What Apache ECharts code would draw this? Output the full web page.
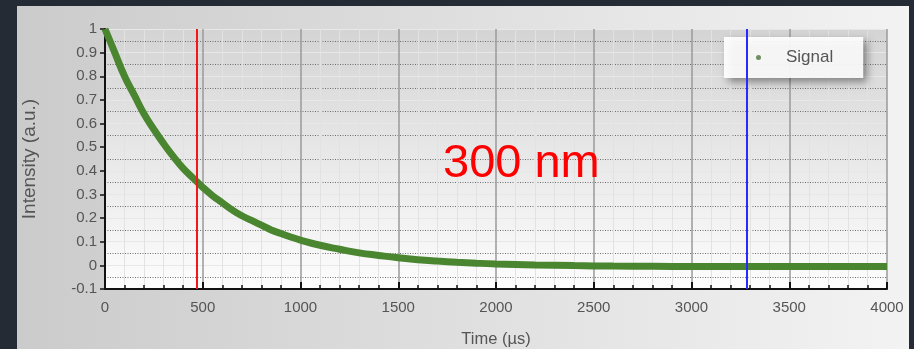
<!DOCTYPE html>
<html>
<head>
<meta charset="utf-8">
<script src="https://cdn.jsdelivr.net/npm/echarts@6/dist/echarts.min.js"></script>
<style>
    html, body { margin: 0; padding: 0; background: #252b34; }
    #chart { width: 914px; height: 349px; }
</style>
</head>
<body>
<div id="chart"></div>
<script>
// values
const timeUs = [0, 50, 100, 150, 200, 250, 300, 350, 400, 450, 500, 550, 600, 650, 700, 750, 800, 850, 900, 950,
    1000, 1100, 1200, 1300, 1400, 1500, 1600, 1700, 1800, 1900, 2000, 2200, 2400, 2600, 2800, 3000, 3500, 4000];
const intensity = [1, 0.9, 0.8, 0.72, 0.64, 0.575, 0.515, 0.46, 0.41, 0.37, 0.33, 0.295, 0.265, 0.235, 0.21, 0.19, 0.17, 0.15, 0.135, 0.12,
    0.107, 0.085, 0.068, 0.053, 0.042, 0.032, 0.024, 0.018, 0.013, 0.009, 0.006, 0.002, -0.001, -0.003, -0.004, -0.005, -0.005, -0.005];
const markerRed = 470;
const markerBlue = 3285;
const seriesName = 'Signal';
const label = '300 nm';

let chart = echarts.init(document.getElementById('chart'));
const font = 'Liberation Sans, Arial, sans-serif';

let option = {
    backgroundColor: '#252b34',
    animation: false,
    graphic: [
        {
            type: 'rect',
            z: -10,
            shape: { x: 17, y: 6, width: 892, height: 343 },
            style: {
                fill: new echarts.graphic.LinearGradient(0, 0, 1, 0, [
                    { offset: 0, color: '#cbcbcb' },
                    { offset: 1, color: '#f3f3f3' }
                ])
            }
        }
    ],
    title: {
        text: label,
        left: 438,
        top: 136,
        textStyle: { color: '#ff0000', fontSize: 47, fontWeight: 'normal', fontFamily: font }
    },
    legend: {
        data: [seriesName],
        left: 724,
        top: 37,
        padding: [12, 30, 12, 32],
        icon: 'circle',
        itemWidth: 5,
        itemHeight: 5,
        itemStyle: { color: '#6f8f62' },
        backgroundColor: 'rgba(255,255,255,0.92)',
        shadowBlur: 8,
        shadowOffsetX: 4,
        shadowOffsetY: 4,
        shadowColor: 'rgba(0,0,0,0.45)',
        textStyle: { color: '#555', fontSize: 17, fontFamily: font, padding: [0, 0, 0, 20] }
    },
    grid: {
        left: 105,
        right: 27,
        top: 29,
        bottom: 60,
        outerBoundsMode: 'none',
        containLabel: false,
        show: true,
        borderWidth: 0,
        backgroundColor: new echarts.graphic.LinearGradient(0, 0, 0, 1, [
            { offset: 0, color: '#d4d4d4' },
            { offset: 1, color: '#fdfdfd' }
        ])
    },
    xAxis: {
        type: 'value',
        min: 0,
        max: 4000,
        interval: 500,
        name: 'Time (µs)',
        nameLocation: 'middle',
        nameGap: 42,
        nameTextStyle: { color: '#555', fontSize: 16.5, fontFamily: font },
        axisLine: { onZero: false, lineStyle: { color: '#111', width: 2 } },
        axisTick: { inside: true, length: 7, lineStyle: { color: '#111', width: 2 } },
        minorTick: { show: true, splitNumber: 5, length: 4, lineStyle: { color: '#111', width: 1.5 } },
        axisLabel: { color: '#555', fontSize: 15, fontFamily: font, margin: 11, formatter: v => String(v) },
        splitLine: { show: true, lineStyle: { color: '#9a9a9a', width: 1.5 } },
        minorSplitLine: { show: true, lineStyle: { color: '#e2e2e2', width: 1 } }
    },
    yAxis: {
        type: 'value',
        min: -0.1,
        max: 1,
        interval: 0.1,
        name: 'Intensity (a.u.)',
        nameLocation: 'middle',
        nameGap: 66,
        nameTextStyle: { color: '#555', fontSize: 19, fontFamily: font },
        axisLine: { show: true, lineStyle: { color: '#111', width: 2 } },
        axisTick: { show: true, length: 5, lineStyle: { color: '#111', width: 1.5 } },
        minorTick: { show: false, splitNumber: 2 },
        axisLabel: {
            color: '#555', fontSize: 15, fontFamily: font, margin: 8,
            formatter: v => String(Math.round(v * 10) / 10)
        },
        splitLine: { show: true, lineStyle: { color: '#e8e8e8', width: 1 } },
        minorSplitLine: { show: true, lineStyle: { color: '#6e6e6e', width: 1, type: [1, 1.5] } }
    },
    series: [
        {
            name: seriesName,
            type: 'line',
            data: timeUs.map((t, i) => [t, intensity[i]]),
            smooth: true,
            showSymbol: false,
            symbol: 'circle',
            lineStyle: { color: '#4a8530', width: 7 },
            itemStyle: { color: '#6f8f62' },
            z: 3,
            markLine: {
                silent: true,
                symbol: 'none',
                label: { show: false },
                data: [
                    { xAxis: markerRed, lineStyle: { color: '#f01818', width: 2, type: 'solid' } },
                    { xAxis: markerBlue, lineStyle: { color: '#2a2aff', width: 2, type: 'solid' } }
                ]
            }
        }
    ]
};
chart.setOption(option);
</script>
</body>
</html>
